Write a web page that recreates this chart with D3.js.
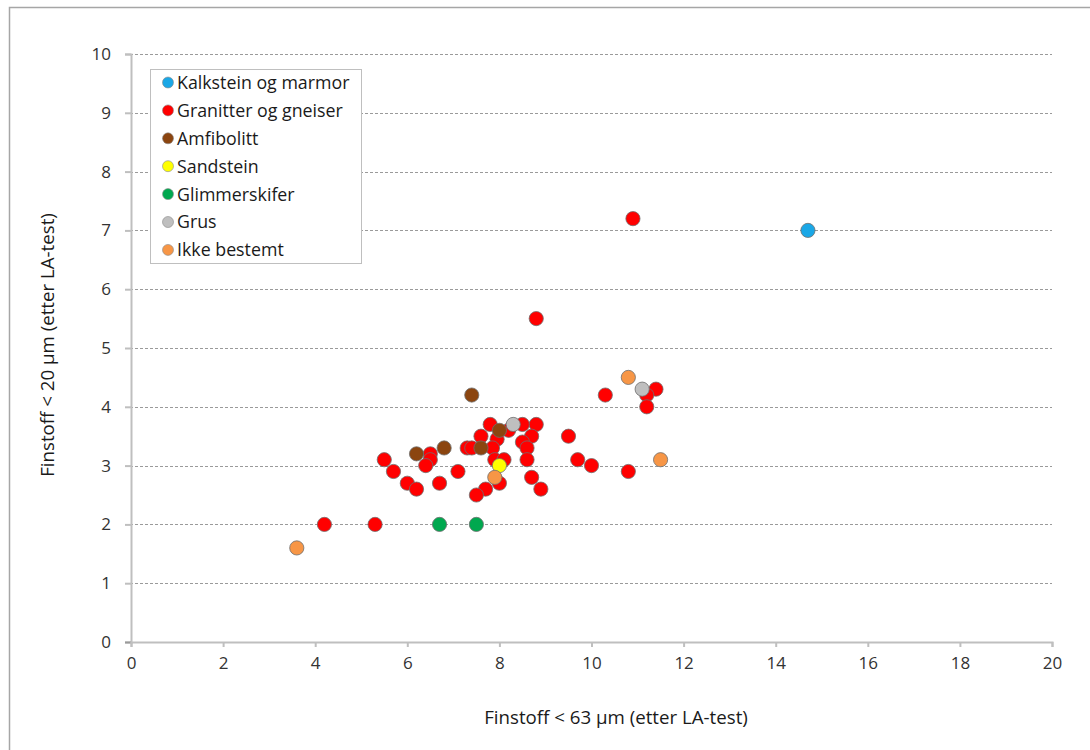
<!DOCTYPE html>
<html><head><meta charset="utf-8">
<script src="https://cdn.jsdelivr.net/npm/d3@7"></script>
<style>
body{margin:0;background:#fff;}
svg{display:block;font-family:"Open Sans",sans-serif;}
</style></head>
<body><svg id="c" width="1090" height="750"></svg>
<script>
const seriesNames = ["Kalkstein og marmor","Granitter og gneiser","Amfibolitt","Sandstein","Glimmerskifer","Grus","Ikke bestemt"];
const seriesColors = ["#1aa7e6","#ff0000","#8b4510","#ffff00","#00a84f","#bfbfbf","#f79646"];
const kalkstein = [[14.7,7.0]];
const granitter = [[10.9,7.2],[8.8,5.5],[10.3,4.2],[11.4,4.3],[11.2,4.2],[11.2,4.0],
 [7.8,3.7],[8.2,3.6],[8.5,3.7],[8.8,3.7],[7.6,3.5],[7.95,3.45],[8.7,3.5],[8.5,3.4],[9.5,3.5],
 [7.3,3.3],[7.4,3.3],[7.85,3.3],[8.6,3.3],
 [7.9,3.1],[8.1,3.1],[8.6,3.1],[9.7,3.1],[10.0,3.0],[10.8,2.9],
 [5.5,3.1],[5.7,2.9],[6.5,3.2],[6.5,3.1],[6.4,3.0],[7.1,2.9],[6.0,2.7],[6.2,2.6],[6.7,2.7],
 [8.0,2.7],[7.7,2.6],[7.5,2.5],[8.7,2.8],[8.9,2.6],
 [4.2,2.0],[5.3,2.0]];
const amfibolitt = [[7.4,4.2],[8.0,3.6],[7.6,3.3],[6.2,3.2],[6.8,3.3]];
const sandstein = [[8.0,3.0]];
const glimmerskifer = [[6.7,2.0],[7.5,2.0]];
const grus = [[8.3,3.7],[11.1,4.3]];
const ikkeBestemt = [[3.6,1.6],[7.9,2.8],[10.8,4.5],[11.5,3.1]];
const seriesData = [kalkstein,granitter,amfibolitt,sandstein,glimmerskifer,grus,ikkeBestemt];
const xTicks = [0,2,4,6,8,10,12,14,16,18,20];
const yTicks = [0,1,2,3,4,5,6,7,8,9,10];
const xTitle = "Finstoff < 63 µm (etter LA-test)";
const yTitle = "Finstoff < 20 µm (etter LA-test)";

const svg = d3.select("#c");
const x = d3.scaleLinear().domain([0,20]).range([131,1052]);
const y = d3.scaleLinear().domain([0,10]).range([642,54]);

// outer frame
svg.append("rect").attr("x",9.5).attr("y",7.5).attr("width",1100).attr("height",800)
  .attr("fill","none").attr("stroke","#a6a6a6").attr("stroke-width",1.5);

// gridlines
svg.append("g").selectAll("line").data(yTicks.filter(d=>d>0)).join("line")
  .attr("x1",125).attr("x2",1052).attr("y1",d=>Math.round(y(d))+0.5).attr("y2",d=>Math.round(y(d))+0.5)
  .attr("stroke","#9a9a9a").attr("stroke-width",1).attr("stroke-dasharray","3,2");

// y axis
const ya = svg.append("g").attr("transform","translate(131,0)")
  .call(d3.axisLeft(y).tickValues(yTicks).tickSize(6).tickPadding(14).tickFormat(d3.format("d")));
// x axis
const xa = svg.append("g").attr("transform","translate(0,642)")
  .call(d3.axisBottom(x).tickValues(xTicks).tickSize(5).tickPadding(10).tickFormat(d3.format("d")));
[ya,xa].forEach(a=>{
  a.select(".domain").attr("stroke","#bfbfbf").attr("stroke-width",2);
  a.selectAll(".tick line").attr("stroke","#bfbfbf").attr("stroke-width",2);
  a.selectAll(".tick text").attr("fill","#333").style("font-size","17px").style("font-family","'Open Sans',sans-serif");
});
ya.select(".tick line").attr("stroke","#9a9a9a");

// points
seriesData.forEach((data,i)=>{
  svg.append("g").selectAll("circle").data(data).join("circle")
    .attr("cx",d=>x(d[0])).attr("cy",d=>y(d[1])).attr("r",7.1)
    .attr("fill",seriesColors[i]).attr("stroke","#6e6e6e").attr("stroke-width",0.8);
});

// legend
const lg = svg.append("g");
lg.append("rect").attr("x",150.5).attr("y",69.5).attr("width",211).attr("height",194)
  .attr("fill","#fff").attr("stroke","#bfbfbf").attr("stroke-width",1);
seriesNames.forEach((n,i)=>{
  const cy = 82.5 + i*27.9;
  lg.append("circle").attr("cx",168).attr("cy",cy).attr("r",5.5)
    .attr("fill",seriesColors[i]).attr("stroke","#8a8a8a").attr("stroke-width",0.6);
  lg.append("text").attr("x",177).attr("y",cy).attr("dy","0.36em")
    .attr("fill","#1a1a1a").style("font-size","17.8px").text(n);
});

// axis titles
svg.append("text").attr("x",616).attr("y",717).attr("dy","0.35em").attr("text-anchor","middle")
  .attr("fill","#1a1a1a").style("font-size","18.7px").text(xTitle);
svg.append("text").attr("transform","translate(47,345) rotate(-90)").attr("dy","0.35em").attr("text-anchor","middle")
  .attr("fill","#1a1a1a").style("font-size","18.7px").text(yTitle);
</script></body></html>
